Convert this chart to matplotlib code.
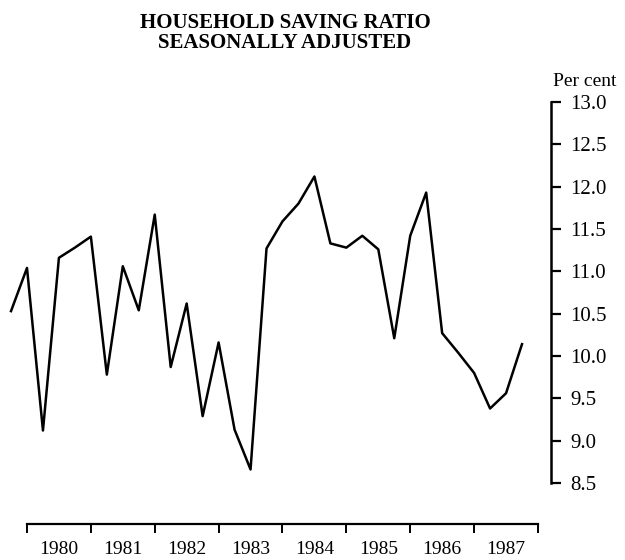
import matplotlib.pyplot as plt
import numpy as np

# quarterly household saving ratio, per cent (1979 Q4 - 1987 Q4)
ratio = [10.53, 11.04, 9.12, 11.16, 11.28, 11.41, 9.78, 11.06,
         10.54, 11.67, 9.87, 10.62, 9.29, 10.16, 9.13, 8.66,
         11.27, 11.59, 11.80, 12.12, 11.33, 11.28, 11.42, 11.26,
         10.21, 11.42, 11.93, 10.27, 10.04, 9.80, 9.38, 9.56, 10.14]
start = 1979.75
years = [1980, 1981, 1982, 1983, 1984, 1985, 1986, 1987]
yticks = [8.5, 9.0, 9.5, 10.0, 10.5, 11.0, 11.5, 12.0, 12.5, 13.0]

plt.rcParams['font.family'] = ['Liberation Serif', 'DejaVu Serif']

fig = plt.figure(figsize=(6.25, 5.6), dpi=100)
ax = fig.add_axes([10/625, 1-483/560, 541/625, 381/560])

t = start + 0.25*np.arange(len(ratio))
ax.plot(t, ratio, color='black', lw=1.8, clip_on=False)
ax.set_xlim(1979.734, 1988.204)
ax.set_ylim(8.5, 13.0)

ax.spines['left'].set_visible(False)
ax.spines['top'].set_visible(False)
ax.spines['right'].set_linewidth(1.8)
ax.spines['bottom'].set_linewidth(1.6)
ax.spines['bottom'].set_position(('outward', 29.5))
ax.spines['bottom'].set_bounds(years[0], years[-1] + 1)

ax.yaxis.tick_right()
ax.set_yticks(yticks)
ax.set_yticklabels([f'{v:.1f}' for v in yticks], fontsize=15)
ax.tick_params(axis='y', direction='out', length=7, width=1.6, pad=7)

# year ticks on the boundaries, labels in between
ax.set_xticks(years + [years[-1] + 1])
ax.set_xticklabels([])
ax.set_xticks([y + 0.5 for y in years], minor=True)
ax.set_xticklabels([str(y) for y in years], minor=True, fontsize=14)
ax.tick_params(axis='x', which='major', direction='out', length=6.5, width=1.4)
ax.tick_params(axis='x', which='minor', length=0, pad=12)

ax.text(553/625, 1-82/560, 'Per cent', transform=fig.transFigure,
        fontsize=14, ha='left', va='center')

fig.text(0.456, 1-23.5/560, 'HOUSEHOLD SAVING RATIO', ha='center',
         va='center', fontsize=15, fontweight='bold')
fig.text(0.456, 1-43.5/560, 'SEASONALLY ADJUSTED', ha='center',
         va='center', fontsize=15, fontweight='bold')

fig.savefig('out.png', dpi=100)
